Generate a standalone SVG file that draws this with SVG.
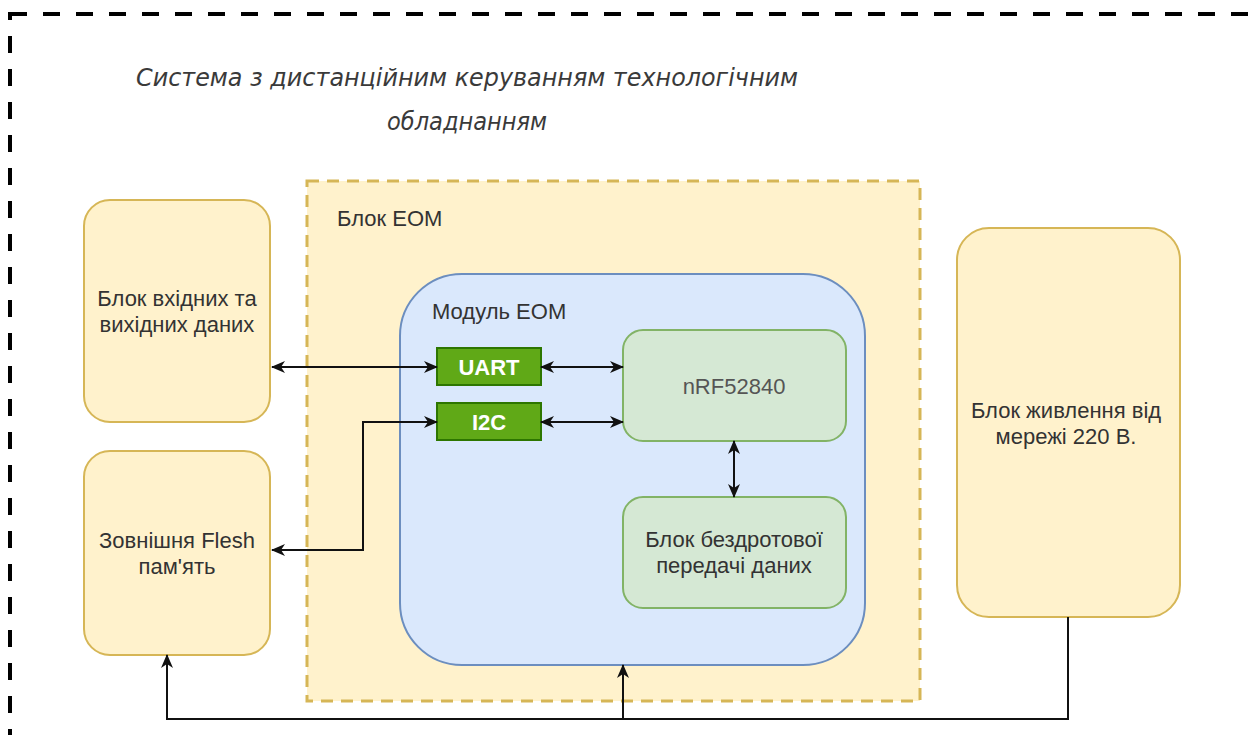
<svg xmlns="http://www.w3.org/2000/svg" width="1248" height="735" viewBox="0 0 1248 735">
  <style>
    .lbl { font-family: "Liberation Sans", Arial, sans-serif; font-size: 22px; fill: #333333; }
    .mid { text-anchor: middle; }
    .title { font-family: "DejaVu Sans", "Liberation Sans", sans-serif; font-style: italic; font-size: 25px; fill: #3a3a3a; text-anchor: middle; }
    .ext { fill: #fff2cc; stroke: #d6b656; stroke-width: 2; }
    .cpu { fill: #d5e8d4; stroke: #82b366; stroke-width: 2; }
    .bus { fill: #60a917; stroke: #2d7600; stroke-width: 2; }
    .busText { font-family: "Liberation Sans", Arial, sans-serif; font-size: 22px; font-weight: bold; fill: #ffffff; text-anchor: middle; }
    .wire { fill: none; stroke: #111111; stroke-width: 2; }
  </style>
  <defs>
    <marker id="arrow" viewBox="0 0 14 14" refX="13" refY="7" markerWidth="14" markerHeight="14" markerUnits="userSpaceOnUse" orient="auto-start-reverse">
      <path d="M0,1 L14,7 L0,13 L4,7 Z" fill="#111111"/>
    </marker>
  </defs>

  <rect width="1248" height="735" fill="#ffffff"/>

  <!-- outer system boundary -->
  <g id="system">
    <rect x="10" y="14" width="1260" height="723" fill="none" stroke="#000000" stroke-width="4" stroke-dasharray="17 16"/>
    <text class="title" x="467" y="86" textLength="662" lengthAdjust="spacingAndGlyphs">Система з дистанційним керуванням технологічним</text>
    <text class="title" x="467" y="130" textLength="160" lengthAdjust="spacingAndGlyphs">обладнанням</text>
  </g>

  <!-- computer unit container -->
  <g id="eom-block">
    <rect x="307" y="181" width="613" height="520" fill="#fff2cc" stroke="#d6b656" stroke-width="3" stroke-dasharray="12 8"/>
    <text class="lbl" x="337" y="226">Блок ЕОМ</text>
  </g>

  <g id="eom-module">
    <rect x="400" y="274" width="465" height="391" rx="62" ry="62" fill="#dae8fc" stroke="#6c8ebf" stroke-width="2"/>
    <text class="lbl" x="432" y="319">Модуль ЕОМ</text>
  </g>

  <g id="uart">
    <rect class="bus" x="437" y="348" width="104" height="37"/>
    <text class="busText" x="489" y="375">UART</text>
  </g>

  <g id="i2c">
    <rect class="bus" x="437" y="403" width="104" height="37"/>
    <text class="busText" x="489" y="430">I2C</text>
  </g>

  <g id="nrf">
    <rect class="cpu" x="623" y="330" width="223" height="111" rx="20" ry="20"/>
    <text class="lbl mid" x="734" y="394" style="fill:#555555">nRF52840</text>
  </g>

  <g id="wireless">
    <rect class="cpu" x="623" y="497" width="223" height="111" rx="20" ry="20"/>
    <text class="lbl mid" x="734" y="547">Блок бездротової</text>
    <text class="lbl mid" x="734" y="573">передачі даних</text>
  </g>

  <g id="io-block">
    <rect class="ext" x="84" y="200" width="186" height="222" rx="26" ry="26"/>
    <text class="lbl mid" x="177" y="306">Блок вхідних та</text>
    <text class="lbl mid" x="177" y="332">вихідних даних</text>
  </g>

  <g id="flash">
    <rect class="ext" x="84" y="451" width="186" height="204" rx="26" ry="26"/>
    <text class="lbl mid" x="177" y="548">Зовнішня Flesh</text>
    <text class="lbl mid" x="177" y="574">пам'ять</text>
  </g>

  <g id="power">
    <rect class="ext" x="957" y="228" width="223" height="389" rx="32" ry="32"/>
    <text class="lbl mid" x="1066" y="418">Блок живлення від</text>
    <text class="lbl mid" x="1066" y="444">мережі 220 В.</text>
  </g>

  <!-- links -->
  <g id="connectors">
    <path class="wire" d="M272,367 L437,367" marker-start="url(#arrow)" marker-end="url(#arrow)"/>
    <path class="wire" d="M541,367 L623,367" marker-start="url(#arrow)" marker-end="url(#arrow)"/>
    <path class="wire" d="M541,422 L623,422" marker-start="url(#arrow)" marker-end="url(#arrow)"/>
    <path class="wire" d="M272,550 L363,550 L363,422 L437,422" marker-start="url(#arrow)" marker-end="url(#arrow)"/>
    <path class="wire" d="M734,441 L734,497" marker-start="url(#arrow)" marker-end="url(#arrow)"/>
    <path class="wire" d="M1068,617 L1068,719 L167,719 L167,655" marker-end="url(#arrow)"/>
    <path class="wire" d="M623,719 L623,665" marker-end="url(#arrow)"/>
  </g>
</svg>
